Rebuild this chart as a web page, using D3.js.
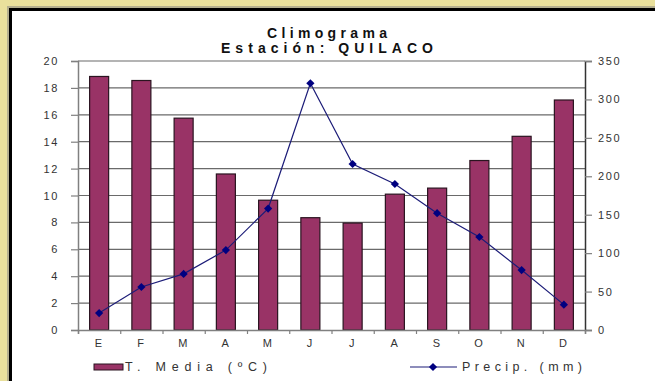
<!DOCTYPE html>
<html>
<head>
<meta charset="utf-8">
<script src="https://cdn.jsdelivr.net/npm/d3@7/dist/d3.min.js"></script>
<style>
  body { margin: 0; background: #fff; }
  svg text { font-family: "Liberation Sans", Arial, sans-serif; }
</style>
</head>
<body>
<svg id="chart" width="655" height="381"></svg>
<script>
// data
var months = ["E", "F", "M", "A", "M", "J", "J", "A", "S", "O", "N", "D"];
var tempMedia = [18.85, 18.55, 15.75, 11.6, 9.65, 8.35, 7.95, 10.1, 10.55, 12.6, 14.4, 17.1];
var precip = [22, 56, 73, 104, 158, 321, 216, 190, 152, 121, 78, 33];
var tempTicks = [0, 2, 4, 6, 8, 10, 12, 14, 16, 18, 20];
var precipTicks = [0, 50, 100, 150, 200, 250, 300, 350];
var titleLines = ["Climograma", "Estación: QUILACO"];
var legendLabels = ["T. Media (ºC)", "Precip. (mm)"];

var svg = d3.select("svg#chart");

// frame: yellow, grey, black
svg.append("rect").attr("width", 655).attr("height", 381).attr("fill", "#e9e09c");
svg.append("rect").attr("x", 7).attr("y", 6).attr("width", 660).attr("height", 390).attr("fill", "#b4af8e");
svg.append("rect").attr("x", 9).attr("y", 8).attr("width", 660).attr("height", 390).attr("fill", "#000");
svg.append("rect").attr("x", 12).attr("y", 11).attr("width", 660).attr("height", 390).attr("fill", "#fff");

var plotL = 78, plotR = 585, plotT = 61, plotB = 330;

var x = d3.scaleBand()
    .domain(d3.range(months.length))
    .range([plotL, plotR])
    .paddingInner(0.55)
    .paddingOuter(0.275);

var xEdge = d3.scaleLinear().domain([0, months.length]).range([plotL, plotR]);

var yT = d3.scaleLinear().domain([0, 20]).range([plotB, plotT]);
var yP = d3.scaleLinear().domain([0, 350]).range([plotB, plotT]);

// gridlines
svg.append("g")
  .selectAll("line")
  .data(tempTicks.slice(1))
  .enter().append("line")
    .attr("x1", plotL).attr("x2", plotR)
    .attr("y1", function(d) { return yT(d); })
    .attr("y2", function(d) { return yT(d); })
    .attr("stroke", "#6a6a6a")
    .attr("stroke-width", 1.2);

// bars
svg.append("g")
  .selectAll("rect")
  .data(tempMedia)
  .enter().append("rect")
    .attr("x", function(d, i) { return x(i); })
    .attr("y", function(d) { return yT(d); })
    .attr("width", x.bandwidth())
    .attr("height", function(d) { return plotB - yT(d); })
    .attr("fill", "#993366")
    .attr("stroke", "#2a1420")
    .attr("stroke-width", 1.2);

// axes
var axisColor = "#808080";
var gL = svg.append("g")
    .attr("transform", "translate(" + plotL + ",0)")
    .call(d3.axisLeft(yT).tickValues(tempTicks).tickSize(7).tickPadding(12));
var gR = svg.append("g")
    .attr("transform", "translate(" + plotR + ",0)")
    .call(d3.axisRight(yP).tickValues(precipTicks).tickSize(7).tickPadding(6));
var gX = svg.append("g")
    .attr("transform", "translate(0," + plotB + ")")
    .call(d3.axisBottom(xEdge).ticks(12).tickSize(4).tickFormat(""));
var gXL = svg.append("g")
    .attr("transform", "translate(0," + plotB + ")")
    .call(d3.axisBottom(x).tickSize(0).tickPadding(9).tickFormat(function(i) { return months[i]; }));
gXL.select(".domain").remove();

[gL, gR, gX].forEach(function(g) {
  g.select(".domain").attr("stroke", axisColor).attr("stroke-width", 1.5);
  g.selectAll(".tick line").attr("stroke", axisColor).attr("stroke-width", 1.2);
});
gR.select(".domain").attr("stroke", "#333");
[gL, gR, gXL].forEach(function(g) {
  g.selectAll("text")
    .attr("font-size", 11)
    .attr("fill", "#333")
    .attr("letter-spacing", "1.6px");
});

// precipitation line
var line = d3.line()
    .x(function(d, i) { return x(i) + x.bandwidth() / 2; })
    .y(function(d) { return yP(d); });

svg.append("path")
    .datum(precip)
    .attr("fill", "none")
    .attr("stroke", "#1c1c78")
    .attr("stroke-width", 1.2)
    .attr("d", line);

var diamond = d3.symbol().type(d3.symbolDiamond).size(30);
svg.append("g")
  .selectAll("path")
  .data(precip)
  .enter().append("path")
    .attr("transform", function(d, i) {
      return "translate(" + (x(i) + x.bandwidth() / 2) + "," + yP(d) + ") scale(1.4,0.8)";
    })
    .attr("d", diamond)
    .attr("fill", "#000080");

// title, letters spread wide as in the picture
var titleWidths = [120, 212];
svg.append("g")
  .selectAll("text")
  .data(titleLines)
  .enter().append("text")
    .attr("x", function(d, i) { return 327 - titleWidths[i] / 2; })
    .attr("y", function(d, i) { return 38 + i * 15; })
    .attr("font-size", 14)
    .attr("font-weight", "bold")
    .attr("textLength", function(d, i) { return titleWidths[i]; })
    .attr("lengthAdjust", "spacing")
    .attr("fill", "#111")
    .text(function(d) { return d; });

// legend
var leg = svg.append("g");
leg.append("rect")
    .attr("x", 94).attr("y", 364).attr("width", 29).attr("height", 6)
    .attr("fill", "#993366").attr("stroke", "#2a1420").attr("stroke-width", 1);
leg.append("text")
    .attr("x", 125).attr("y", 371)
    .attr("font-size", 12.5).attr("fill", "#333")
    .attr("textLength", 142).attr("lengthAdjust", "spacing")
    .text(legendLabels[0]);
leg.append("line")
    .attr("x1", 410).attr("x2", 457).attr("y1", 367).attr("y2", 367)
    .attr("stroke", "#1c1c78").attr("stroke-width", 1.2);
leg.append("path")
    .attr("transform", "translate(433,367) scale(1.4,0.8)")
    .attr("d", diamond)
    .attr("fill", "#000080");
leg.append("text")
    .attr("x", 462).attr("y", 371)
    .attr("font-size", 12.5).attr("fill", "#333")
    .attr("textLength", 120).attr("lengthAdjust", "spacing")
    .text(legendLabels[1]);
</script>
</body>
</html>
